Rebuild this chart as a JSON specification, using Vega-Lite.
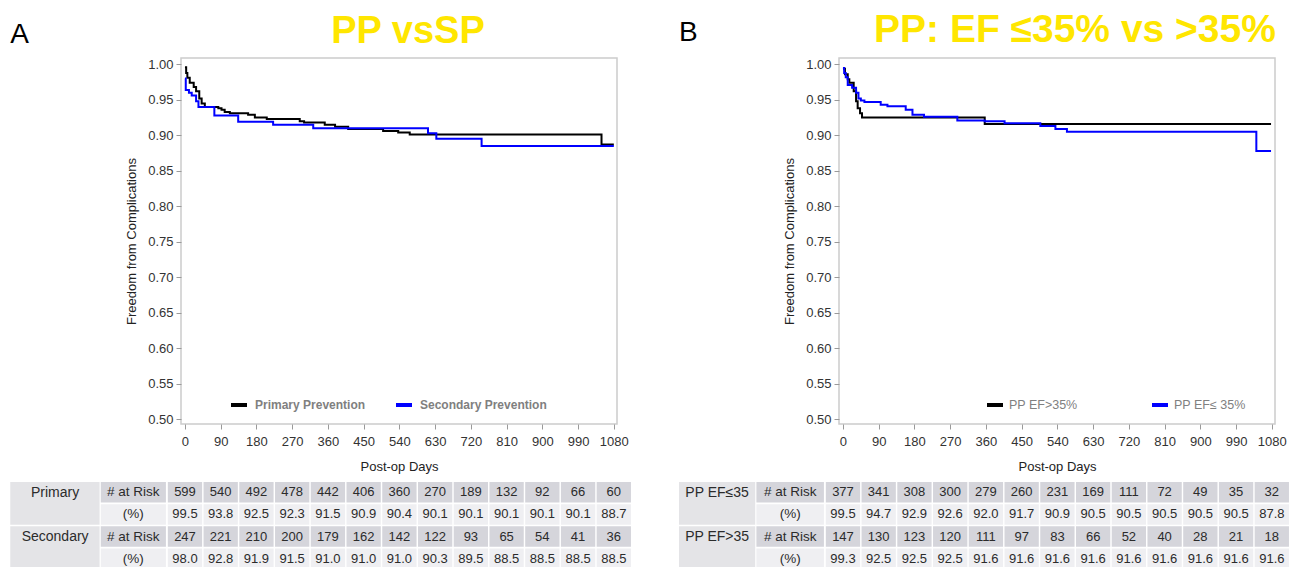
{
  "$schema": "https://vega.github.io/schema/vega-lite/v6.json",
  "padding": {"left": 10, "top": 10, "right": 0, "bottom": 0},
  "background": "white",
  "config": {
    "font": "Liberation Sans",
    "view": {"stroke": "#cccccc", "strokeWidth": 1.5},
    "axis": {"domain": false, "grid": false, "tickColor": "#9a9a9a", "tickSize": 5, "labelColor": "#333333", "labelFontSize": 13, "titleColor": "#222222", "titleFontSize": 13, "titleFontWeight": "normal"}
  },
  "datasets": {
    "curveA": [
      {"series": "Primary Prevention", "day": 0, "surv": 0.996},
      {"series": "Primary Prevention", "day": 3, "surv": 0.988},
      {"series": "Primary Prevention", "day": 6, "surv": 0.981},
      {"series": "Primary Prevention", "day": 12, "surv": 0.974},
      {"series": "Primary Prevention", "day": 22, "surv": 0.968},
      {"series": "Primary Prevention", "day": 28, "surv": 0.962},
      {"series": "Primary Prevention", "day": 36, "surv": 0.952},
      {"series": "Primary Prevention", "day": 42, "surv": 0.945},
      {"series": "Primary Prevention", "day": 50, "surv": 0.940},
      {"series": "Primary Prevention", "day": 84, "surv": 0.938},
      {"series": "Primary Prevention", "day": 92, "surv": 0.936},
      {"series": "Primary Prevention", "day": 100, "surv": 0.933},
      {"series": "Primary Prevention", "day": 113, "surv": 0.931},
      {"series": "Primary Prevention", "day": 159, "surv": 0.929},
      {"series": "Primary Prevention", "day": 176, "surv": 0.925},
      {"series": "Primary Prevention", "day": 206, "surv": 0.923},
      {"series": "Primary Prevention", "day": 289, "surv": 0.920},
      {"series": "Primary Prevention", "day": 300, "surv": 0.918},
      {"series": "Primary Prevention", "day": 352, "surv": 0.915},
      {"series": "Primary Prevention", "day": 378, "surv": 0.912},
      {"series": "Primary Prevention", "day": 411, "surv": 0.909},
      {"series": "Primary Prevention", "day": 499, "surv": 0.906},
      {"series": "Primary Prevention", "day": 537, "surv": 0.904},
      {"series": "Primary Prevention", "day": 566, "surv": 0.901},
      {"series": "Primary Prevention", "day": 1049, "surv": 0.887},
      {"series": "Primary Prevention", "day": 1080, "surv": 0.887},
      {"series": "Secondary Prevention", "day": 0, "surv": 0.980},
      {"series": "Secondary Prevention", "day": 2, "surv": 0.964},
      {"series": "Secondary Prevention", "day": 10, "surv": 0.960},
      {"series": "Secondary Prevention", "day": 17, "surv": 0.956},
      {"series": "Secondary Prevention", "day": 28, "surv": 0.948},
      {"series": "Secondary Prevention", "day": 34, "surv": 0.940},
      {"series": "Secondary Prevention", "day": 74, "surv": 0.928},
      {"series": "Secondary Prevention", "day": 134, "surv": 0.919},
      {"series": "Secondary Prevention", "day": 222, "surv": 0.915},
      {"series": "Secondary Prevention", "day": 323, "surv": 0.910},
      {"series": "Secondary Prevention", "day": 612, "surv": 0.903},
      {"series": "Secondary Prevention", "day": 633, "surv": 0.895},
      {"series": "Secondary Prevention", "day": 747, "surv": 0.885},
      {"series": "Secondary Prevention", "day": 1080, "surv": 0.885}
    ],
    "curveB": [
      {"series": "PP EF>35%", "day": 0, "surv": 0.994},
      {"series": "PP EF>35%", "day": 5, "surv": 0.986},
      {"series": "PP EF>35%", "day": 12, "surv": 0.979},
      {"series": "PP EF>35%", "day": 16, "surv": 0.974},
      {"series": "PP EF>35%", "day": 27, "surv": 0.962},
      {"series": "PP EF>35%", "day": 33, "surv": 0.948},
      {"series": "PP EF>35%", "day": 37, "surv": 0.938},
      {"series": "PP EF>35%", "day": 43, "surv": 0.931},
      {"series": "PP EF>35%", "day": 48, "surv": 0.925},
      {"series": "PP EF>35%", "day": 357, "surv": 0.916},
      {"series": "PP EF>35%", "day": 1078, "surv": 0.916},
      {"series": "PP EF≤ 35%", "day": 0, "surv": 0.995},
      {"series": "PP EF≤ 35%", "day": 3, "surv": 0.988},
      {"series": "PP EF≤ 35%", "day": 7, "surv": 0.982},
      {"series": "PP EF≤ 35%", "day": 12, "surv": 0.971},
      {"series": "PP EF≤ 35%", "day": 23, "surv": 0.967},
      {"series": "PP EF≤ 35%", "day": 33, "surv": 0.960},
      {"series": "PP EF≤ 35%", "day": 39, "surv": 0.952},
      {"series": "PP EF≤ 35%", "day": 45, "surv": 0.949},
      {"series": "PP EF≤ 35%", "day": 54, "surv": 0.947},
      {"series": "PP EF≤ 35%", "day": 95, "surv": 0.943},
      {"series": "PP EF≤ 35%", "day": 112, "surv": 0.941},
      {"series": "PP EF≤ 35%", "day": 158, "surv": 0.936},
      {"series": "PP EF≤ 35%", "day": 175, "surv": 0.929},
      {"series": "PP EF≤ 35%", "day": 204, "surv": 0.926},
      {"series": "PP EF≤ 35%", "day": 288, "surv": 0.921},
      {"series": "PP EF≤ 35%", "day": 357, "surv": 0.920},
      {"series": "PP EF≤ 35%", "day": 407, "surv": 0.917},
      {"series": "PP EF≤ 35%", "day": 497, "surv": 0.913},
      {"series": "PP EF≤ 35%", "day": 535, "surv": 0.909},
      {"series": "PP EF≤ 35%", "day": 564, "surv": 0.905},
      {"series": "PP EF≤ 35%", "day": 1041, "surv": 0.878},
      {"series": "PP EF≤ 35%", "day": 1078, "surv": 0.878}
    ],
    "tableA": [
      {"g": "Primary", "m": "# at Risk", "day": 0, "v": "599"},
      {"g": "Primary", "m": "# at Risk", "day": 90, "v": "540"},
      {"g": "Primary", "m": "# at Risk", "day": 180, "v": "492"},
      {"g": "Primary", "m": "# at Risk", "day": 270, "v": "478"},
      {"g": "Primary", "m": "# at Risk", "day": 360, "v": "442"},
      {"g": "Primary", "m": "# at Risk", "day": 450, "v": "406"},
      {"g": "Primary", "m": "# at Risk", "day": 540, "v": "360"},
      {"g": "Primary", "m": "# at Risk", "day": 630, "v": "270"},
      {"g": "Primary", "m": "# at Risk", "day": 720, "v": "189"},
      {"g": "Primary", "m": "# at Risk", "day": 810, "v": "132"},
      {"g": "Primary", "m": "# at Risk", "day": 900, "v": "92"},
      {"g": "Primary", "m": "# at Risk", "day": 990, "v": "66"},
      {"g": "Primary", "m": "# at Risk", "day": 1080, "v": "60"},
      {"g": "Primary", "m": "(%)", "day": 0, "v": "99.5"},
      {"g": "Primary", "m": "(%)", "day": 90, "v": "93.8"},
      {"g": "Primary", "m": "(%)", "day": 180, "v": "92.5"},
      {"g": "Primary", "m": "(%)", "day": 270, "v": "92.3"},
      {"g": "Primary", "m": "(%)", "day": 360, "v": "91.5"},
      {"g": "Primary", "m": "(%)", "day": 450, "v": "90.9"},
      {"g": "Primary", "m": "(%)", "day": 540, "v": "90.4"},
      {"g": "Primary", "m": "(%)", "day": 630, "v": "90.1"},
      {"g": "Primary", "m": "(%)", "day": 720, "v": "90.1"},
      {"g": "Primary", "m": "(%)", "day": 810, "v": "90.1"},
      {"g": "Primary", "m": "(%)", "day": 900, "v": "90.1"},
      {"g": "Primary", "m": "(%)", "day": 990, "v": "90.1"},
      {"g": "Primary", "m": "(%)", "day": 1080, "v": "88.7"},
      {"g": "Secondary", "m": "# at Risk", "day": 0, "v": "247"},
      {"g": "Secondary", "m": "# at Risk", "day": 90, "v": "221"},
      {"g": "Secondary", "m": "# at Risk", "day": 180, "v": "210"},
      {"g": "Secondary", "m": "# at Risk", "day": 270, "v": "200"},
      {"g": "Secondary", "m": "# at Risk", "day": 360, "v": "179"},
      {"g": "Secondary", "m": "# at Risk", "day": 450, "v": "162"},
      {"g": "Secondary", "m": "# at Risk", "day": 540, "v": "142"},
      {"g": "Secondary", "m": "# at Risk", "day": 630, "v": "122"},
      {"g": "Secondary", "m": "# at Risk", "day": 720, "v": "93"},
      {"g": "Secondary", "m": "# at Risk", "day": 810, "v": "65"},
      {"g": "Secondary", "m": "# at Risk", "day": 900, "v": "54"},
      {"g": "Secondary", "m": "# at Risk", "day": 990, "v": "41"},
      {"g": "Secondary", "m": "# at Risk", "day": 1080, "v": "36"},
      {"g": "Secondary", "m": "(%)", "day": 0, "v": "98.0"},
      {"g": "Secondary", "m": "(%)", "day": 90, "v": "92.8"},
      {"g": "Secondary", "m": "(%)", "day": 180, "v": "91.9"},
      {"g": "Secondary", "m": "(%)", "day": 270, "v": "91.5"},
      {"g": "Secondary", "m": "(%)", "day": 360, "v": "91.0"},
      {"g": "Secondary", "m": "(%)", "day": 450, "v": "91.0"},
      {"g": "Secondary", "m": "(%)", "day": 540, "v": "91.0"},
      {"g": "Secondary", "m": "(%)", "day": 630, "v": "90.3"},
      {"g": "Secondary", "m": "(%)", "day": 720, "v": "89.5"},
      {"g": "Secondary", "m": "(%)", "day": 810, "v": "88.5"},
      {"g": "Secondary", "m": "(%)", "day": 900, "v": "88.5"},
      {"g": "Secondary", "m": "(%)", "day": 990, "v": "88.5"},
      {"g": "Secondary", "m": "(%)", "day": 1080, "v": "88.5"}
    ],
    "tableB": [
      {"g": "PP EF≤35", "m": "# at Risk", "day": 0, "v": "377"},
      {"g": "PP EF≤35", "m": "# at Risk", "day": 90, "v": "341"},
      {"g": "PP EF≤35", "m": "# at Risk", "day": 180, "v": "308"},
      {"g": "PP EF≤35", "m": "# at Risk", "day": 270, "v": "300"},
      {"g": "PP EF≤35", "m": "# at Risk", "day": 360, "v": "279"},
      {"g": "PP EF≤35", "m": "# at Risk", "day": 450, "v": "260"},
      {"g": "PP EF≤35", "m": "# at Risk", "day": 540, "v": "231"},
      {"g": "PP EF≤35", "m": "# at Risk", "day": 630, "v": "169"},
      {"g": "PP EF≤35", "m": "# at Risk", "day": 720, "v": "111"},
      {"g": "PP EF≤35", "m": "# at Risk", "day": 810, "v": "72"},
      {"g": "PP EF≤35", "m": "# at Risk", "day": 900, "v": "49"},
      {"g": "PP EF≤35", "m": "# at Risk", "day": 990, "v": "35"},
      {"g": "PP EF≤35", "m": "# at Risk", "day": 1080, "v": "32"},
      {"g": "PP EF≤35", "m": "(%)", "day": 0, "v": "99.5"},
      {"g": "PP EF≤35", "m": "(%)", "day": 90, "v": "94.7"},
      {"g": "PP EF≤35", "m": "(%)", "day": 180, "v": "92.9"},
      {"g": "PP EF≤35", "m": "(%)", "day": 270, "v": "92.6"},
      {"g": "PP EF≤35", "m": "(%)", "day": 360, "v": "92.0"},
      {"g": "PP EF≤35", "m": "(%)", "day": 450, "v": "91.7"},
      {"g": "PP EF≤35", "m": "(%)", "day": 540, "v": "90.9"},
      {"g": "PP EF≤35", "m": "(%)", "day": 630, "v": "90.5"},
      {"g": "PP EF≤35", "m": "(%)", "day": 720, "v": "90.5"},
      {"g": "PP EF≤35", "m": "(%)", "day": 810, "v": "90.5"},
      {"g": "PP EF≤35", "m": "(%)", "day": 900, "v": "90.5"},
      {"g": "PP EF≤35", "m": "(%)", "day": 990, "v": "90.5"},
      {"g": "PP EF≤35", "m": "(%)", "day": 1080, "v": "87.8"},
      {"g": "PP EF>35", "m": "# at Risk", "day": 0, "v": "147"},
      {"g": "PP EF>35", "m": "# at Risk", "day": 90, "v": "130"},
      {"g": "PP EF>35", "m": "# at Risk", "day": 180, "v": "123"},
      {"g": "PP EF>35", "m": "# at Risk", "day": 270, "v": "120"},
      {"g": "PP EF>35", "m": "# at Risk", "day": 360, "v": "111"},
      {"g": "PP EF>35", "m": "# at Risk", "day": 450, "v": "97"},
      {"g": "PP EF>35", "m": "# at Risk", "day": 540, "v": "83"},
      {"g": "PP EF>35", "m": "# at Risk", "day": 630, "v": "66"},
      {"g": "PP EF>35", "m": "# at Risk", "day": 720, "v": "52"},
      {"g": "PP EF>35", "m": "# at Risk", "day": 810, "v": "40"},
      {"g": "PP EF>35", "m": "# at Risk", "day": 900, "v": "28"},
      {"g": "PP EF>35", "m": "# at Risk", "day": 990, "v": "21"},
      {"g": "PP EF>35", "m": "# at Risk", "day": 1080, "v": "18"},
      {"g": "PP EF>35", "m": "(%)", "day": 0, "v": "99.3"},
      {"g": "PP EF>35", "m": "(%)", "day": 90, "v": "92.5"},
      {"g": "PP EF>35", "m": "(%)", "day": 180, "v": "92.5"},
      {"g": "PP EF>35", "m": "(%)", "day": 270, "v": "92.5"},
      {"g": "PP EF>35", "m": "(%)", "day": 360, "v": "91.6"},
      {"g": "PP EF>35", "m": "(%)", "day": 450, "v": "91.6"},
      {"g": "PP EF>35", "m": "(%)", "day": 540, "v": "91.6"},
      {"g": "PP EF>35", "m": "(%)", "day": 630, "v": "91.6"},
      {"g": "PP EF>35", "m": "(%)", "day": 720, "v": "91.6"},
      {"g": "PP EF>35", "m": "(%)", "day": 810, "v": "91.6"},
      {"g": "PP EF>35", "m": "(%)", "day": 900, "v": "91.6"},
      {"g": "PP EF>35", "m": "(%)", "day": 990, "v": "91.6"},
      {"g": "PP EF>35", "m": "(%)", "day": 1080, "v": "91.6"}
    ]
  },
  "resolve": {"scale": {"x": "independent", "y": "independent", "color": "independent", "fill": "independent"}},
  "spacing": 47,
  "hconcat": [
    {
      "title": {"text": "A", "anchor": "start", "frame": "bounds", "baseline": "alphabetic", "offset": -59, "fontSize": 28, "fontWeight": "normal", "color": "#000000"},
      "spacing": 8,
      "resolve": {"scale": {"x": "independent", "y": "independent", "color": "independent", "fill": "independent"}},
      "vconcat": [
        {
          "width": 436,
          "height": 366,
          "title": {"text": "PP vsSP", "fontSize": 38, "fontWeight": "bold", "color": "#ffe600", "anchor": "middle", "frame": "group", "baseline": "alphabetic", "offset": -23, "dx": 9},
          "data": {"name": "curveA"},
          "mark": {"type": "line", "interpolate": "step-after", "strokeWidth": 2},
          "encoding": {
            "x": {"field": "day", "type": "quantitative", "scale": {"domain": [-10, 1088], "nice": false, "zero": false},
                  "axis": {"values": [0, 90, 180, 270, 360, 450, 540, 630, 720, 810, 900, 990, 1080], "format": "d", "title": "Post-op Days", "labelPadding": 6, "titlePadding": 12, "labelFlush": false}},
            "y": {"field": "surv", "type": "quantitative", "scale": {"domain": [0.493, 1.009], "nice": false, "zero": false},
                  "axis": {"values": [0.5, 0.55, 0.6, 0.65, 0.7, 0.75, 0.8, 0.85, 0.9, 0.95, 1.0], "format": ".2f", "title": "Freedom from Complications", "labelPadding": 3, "titlePadding": 9}},
            "color": {"field": "series", "type": "nominal", "scale": {"domain": ["Primary Prevention", "Secondary Prevention"], "range": ["#000000", "#0000ff"]},
                      "legend": {"orient": "none", "legendX": 48, "legendY": 337, "direction": "horizontal", "title": null, "padding": 0, "symbolType": "stroke", "symbolStrokeWidth": 4, "symbolSize": 256, "labelOffset": 6, "labelFontWeight": "bold", "labelFontSize": 12, "labelColor": "#808080", "columnPadding": 22}}
          }
        },
        {
          "width": 436,
          "height": 87,
          "view": {"stroke": null},
          "data": {"name": "tableA"},
          "layer": [
            {
              "transform": [{"filter": "datum.day == 0 && datum.m == '# at Risk'"}],
              "mark": {"type": "rect", "color": "#e4e4e7"},
              "encoding": {
                "x": {"datum": -440, "type": "quantitative", "scale": {"domain": [-10, 1088], "nice": false, "zero": false}, "axis": null},
                "x2": {"datum": -215},
                "y": {"field": "g", "type": "nominal", "sort": ["Primary", "Secondary"], "axis": null, "scale": {"paddingInner": 0.035, "paddingOuter": 0}}
              }
            },
            {
              "transform": [{"filter": "datum.day == 0 && datum.m == '# at Risk'"}],
              "mark": {"type": "text", "fontSize": 14, "color": "#2b2b2b"},
              "encoding": {
                "x": {"datum": -327, "type": "quantitative", "axis": null},
                "y": {"field": "g", "type": "nominal", "sort": ["Primary", "Secondary"], "axis": null, "bandPosition": 0.25},
                "text": {"field": "g"}
              }
            },
            {
              "transform": [{"filter": "datum.day == 0"}],
              "mark": {"type": "rect"},
              "encoding": {
                "x": {"datum": -212, "type": "quantitative", "axis": null},
                "x2": {"datum": -48},
                "y": {"field": "g", "type": "nominal", "sort": ["Primary", "Secondary"], "axis": null},
                "yOffset": {"field": "m", "type": "nominal", "sort": ["# at Risk", "(%)"], "scale": {"paddingInner": 0.07, "paddingOuter": 0}},
                "fill": {"field": "m", "type": "nominal", "scale": {"domain": ["# at Risk", "(%)"], "range": ["#d5d5db", "#efeff2"]}, "legend": null}
              }
            },
            {
              "transform": [{"filter": "datum.day == 0"}],
              "mark": {"type": "text", "fontSize": 13.5, "color": "#2b2b2b"},
              "encoding": {
                "x": {"datum": -130, "type": "quantitative", "axis": null},
                "y": {"field": "g", "type": "nominal", "sort": ["Primary", "Secondary"], "axis": null},
                "yOffset": {"field": "m", "type": "nominal", "sort": ["# at Risk", "(%)"]},
                "text": {"field": "m"}
              }
            },
            {
              "mark": {"type": "rect", "width": 34.3},
              "encoding": {
                "x": {"field": "day", "type": "quantitative", "axis": null},
                "y": {"field": "g", "type": "nominal", "sort": ["Primary", "Secondary"], "axis": null},
                "yOffset": {"field": "m", "type": "nominal", "sort": ["# at Risk", "(%)"]},
                "fill": {"field": "m", "type": "nominal", "legend": null}
              }
            },
            {
              "mark": {"type": "text", "fontSize": 13, "color": "#2b2b2b"},
              "encoding": {
                "x": {"field": "day", "type": "quantitative", "axis": null},
                "y": {"field": "g", "type": "nominal", "sort": ["Primary", "Secondary"], "axis": null},
                "yOffset": {"field": "m", "type": "nominal", "sort": ["# at Risk", "(%)"]},
                "text": {"field": "v"}
              }
            }
          ]
        }
      ]
    },
    {
      "title": {"text": "B", "anchor": "start", "frame": "bounds", "baseline": "alphabetic", "offset": -59, "fontSize": 28, "fontWeight": "normal", "color": "#000000"},
      "spacing": 8,
      "resolve": {"scale": {"x": "independent", "y": "independent", "color": "independent", "fill": "independent"}},
      "vconcat": [
        {
          "width": 436,
          "height": 366,
          "title": {"text": "PP: EF ≤35% vs >35%", "fontSize": 39, "fontWeight": "bold", "color": "#ffe600", "anchor": "middle", "frame": "group", "baseline": "alphabetic", "offset": -23, "dx": 18},
          "data": {"name": "curveB"},
          "mark": {"type": "line", "interpolate": "step-after", "strokeWidth": 2},
          "encoding": {
            "x": {"field": "day", "type": "quantitative", "scale": {"domain": [-10, 1088], "nice": false, "zero": false},
                  "axis": {"values": [0, 90, 180, 270, 360, 450, 540, 630, 720, 810, 900, 990, 1080], "format": "d", "title": "Post-op Days", "labelPadding": 6, "titlePadding": 12, "labelFlush": false}},
            "y": {"field": "surv", "type": "quantitative", "scale": {"domain": [0.493, 1.009], "nice": false, "zero": false},
                  "axis": {"values": [0.5, 0.55, 0.6, 0.65, 0.7, 0.75, 0.8, 0.85, 0.9, 0.95, 1.0], "format": ".2f", "title": "Freedom from Complications", "labelPadding": 3, "titlePadding": 9}},
            "color": {"field": "series", "type": "nominal", "scale": {"domain": ["PP EF>35%", "PP EF≤ 35%"], "range": ["#000000", "#0000ff"]},
                      "legend": {"orient": "none", "legendX": 146, "legendY": 337, "direction": "horizontal", "title": null, "padding": 0, "symbolType": "stroke", "symbolStrokeWidth": 4, "symbolSize": 256, "labelOffset": 4, "labelFontSize": 12.5, "labelColor": "#808080", "columnPadding": 66}}
          }
        },
        {
          "width": 436,
          "height": 87,
          "view": {"stroke": null},
          "data": {"name": "tableB"},
          "layer": [
            {
              "transform": [{"filter": "datum.day == 0 && datum.m == '# at Risk'"}],
              "mark": {"type": "rect", "color": "#e4e4e7"},
              "encoding": {
                "x": {"datum": -413, "type": "quantitative", "scale": {"domain": [-10, 1088], "nice": false, "zero": false}, "axis": null},
                "x2": {"datum": -221},
                "y": {"field": "g", "type": "nominal", "sort": ["PP EF≤35", "PP EF>35"], "axis": null, "scale": {"paddingInner": 0.035, "paddingOuter": 0}}
              }
            },
            {
              "transform": [{"filter": "datum.day == 0 && datum.m == '# at Risk'"}],
              "mark": {"type": "text", "fontSize": 14, "color": "#2b2b2b"},
              "encoding": {
                "x": {"datum": -317, "type": "quantitative", "axis": null},
                "y": {"field": "g", "type": "nominal", "sort": ["PP EF≤35", "PP EF>35"], "axis": null, "bandPosition": 0.25},
                "text": {"field": "g"}
              }
            },
            {
              "transform": [{"filter": "datum.day == 0"}],
              "mark": {"type": "rect"},
              "encoding": {
                "x": {"datum": -218, "type": "quantitative", "axis": null},
                "x2": {"datum": -48},
                "y": {"field": "g", "type": "nominal", "sort": ["PP EF≤35", "PP EF>35"], "axis": null},
                "yOffset": {"field": "m", "type": "nominal", "sort": ["# at Risk", "(%)"], "scale": {"paddingInner": 0.07, "paddingOuter": 0}},
                "fill": {"field": "m", "type": "nominal", "scale": {"domain": ["# at Risk", "(%)"], "range": ["#d5d5db", "#efeff2"]}, "legend": null}
              }
            },
            {
              "transform": [{"filter": "datum.day == 0"}],
              "mark": {"type": "text", "fontSize": 13.5, "color": "#2b2b2b"},
              "encoding": {
                "x": {"datum": -133, "type": "quantitative", "axis": null},
                "y": {"field": "g", "type": "nominal", "sort": ["PP EF≤35", "PP EF>35"], "axis": null},
                "yOffset": {"field": "m", "type": "nominal", "sort": ["# at Risk", "(%)"]},
                "text": {"field": "m"}
              }
            },
            {
              "mark": {"type": "rect", "width": 34.3},
              "encoding": {
                "x": {"field": "day", "type": "quantitative", "axis": null},
                "y": {"field": "g", "type": "nominal", "sort": ["PP EF≤35", "PP EF>35"], "axis": null},
                "yOffset": {"field": "m", "type": "nominal", "sort": ["# at Risk", "(%)"]},
                "fill": {"field": "m", "type": "nominal", "legend": null}
              }
            },
            {
              "mark": {"type": "text", "fontSize": 13, "color": "#2b2b2b"},
              "encoding": {
                "x": {"field": "day", "type": "quantitative", "axis": null},
                "y": {"field": "g", "type": "nominal", "sort": ["PP EF≤35", "PP EF>35"], "axis": null},
                "yOffset": {"field": "m", "type": "nominal", "sort": ["# at Risk", "(%)"]},
                "text": {"field": "v"}
              }
            }
          ]
        }
      ]
    }
  ]
}
